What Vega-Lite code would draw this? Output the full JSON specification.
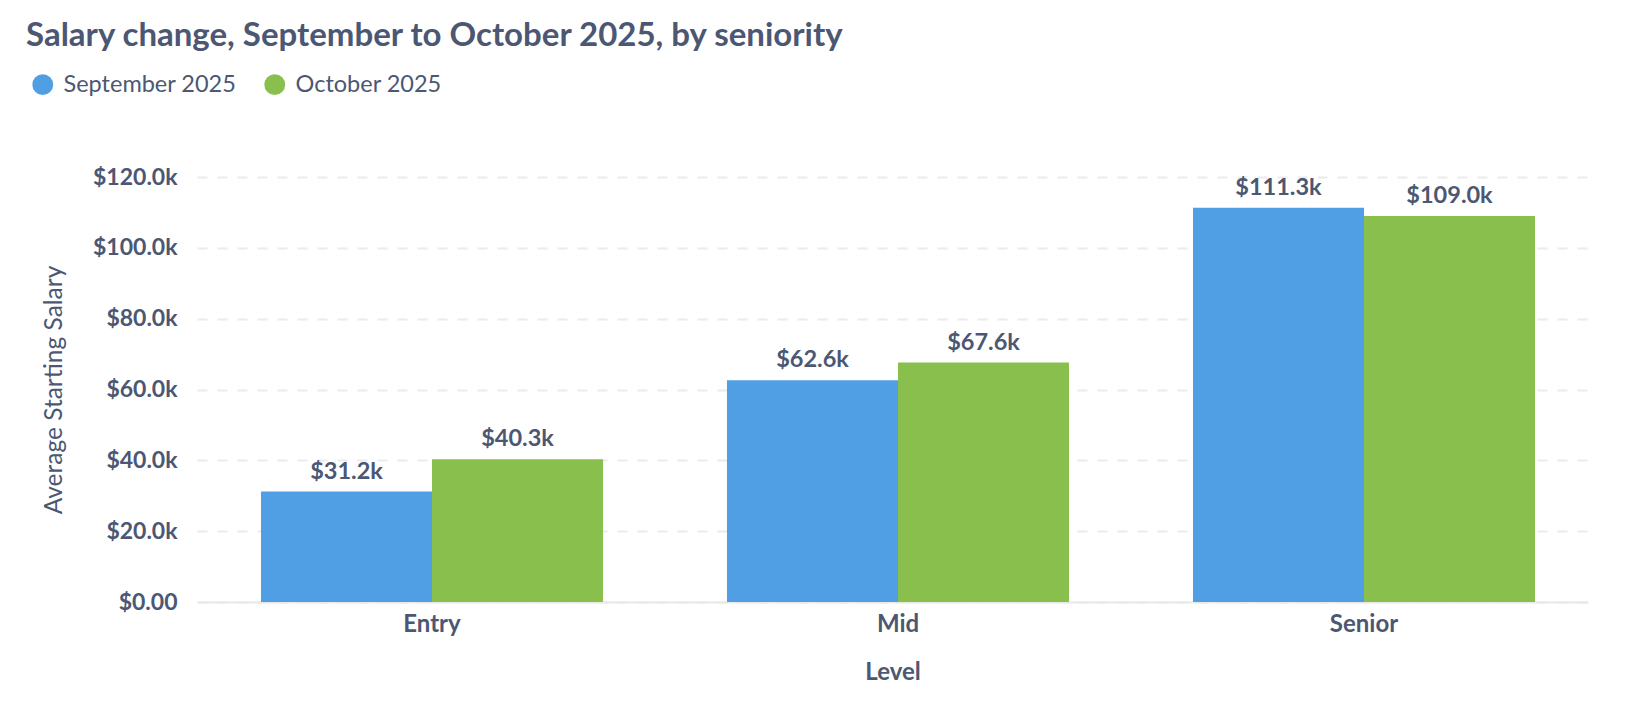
{
  "$schema": "https://vega.github.io/schema/vega-lite/v6.json",
  "width": 1391,
  "height": 425,
  "autosize": {"type": "none"},
  "padding": {"left": 197, "top": 177, "right": 54, "bottom": 110},
  "background": "white",
  "title": {
    "text": "Salary change, September to October 2025, by seniority",
    "anchor": "start",
    "frame": "group",
    "dx": -171,
    "dy": -16,
    "font": "Lato",
    "fontSize": 33,
    "fontWeight": "bold",
    "color": "#4C5773"
  },
  "data": {
    "values": [
      {"level": "Entry", "month": "September 2025", "salary": 31200},
      {"level": "Entry", "month": "October 2025", "salary": 40300},
      {"level": "Mid", "month": "September 2025", "salary": 62600},
      {"level": "Mid", "month": "October 2025", "salary": 67600},
      {"level": "Senior", "month": "September 2025", "salary": 111300},
      {"level": "Senior", "month": "October 2025", "salary": 109000}
    ]
  },
  "transform": [
    {"calculate": "'$' + format(datum.salary / 1000, '.1f') + 'k'", "as": "label"}
  ],
  "encoding": {
    "x": {
      "field": "level",
      "type": "nominal",
      "sort": ["Entry", "Mid", "Senior"],
      "title": "Level",
      "scale": {"paddingInner": 0.266, "paddingOuter": 0.1255, "align": 0.547},
      "axis": {
        "labelAngle": 0,
        "labelFont": "Lato",
        "labelFontSize": 24,
        "labelFontWeight": "bold",
        "labelColor": "#4C5773",
        "labelPadding": 10,
        "ticks": false,
        "domainColor": "#E8E8E8",
        "domainWidth": 2,
        "titleFont": "Lato",
        "titleFontSize": 24,
        "titleFontWeight": "bold",
        "titleColor": "#4C5773",
        "titlePadding": 24
      }
    },
    "xOffset": {"field": "month", "type": "nominal", "sort": ["September 2025", "October 2025"]},
    "y": {
      "field": "salary",
      "type": "quantitative",
      "title": "Average Starting Salary",
      "scale": {"domain": [0, 120000]},
      "axis": {
        "values": [0, 20000, 40000, 60000, 80000, 100000, 120000],
        "labelExpr": "datum.value == 0 ? '$0.00' : '$' + format(datum.value / 1000, '.1f') + 'k'",
        "labelFont": "Lato",
        "labelFontSize": 23,
        "labelFontWeight": "bold",
        "labelColor": "#4C5773",
        "labelPadding": 20,
        "ticks": false,
        "domain": false,
        "grid": true,
        "gridColor": "#EBEBEB",
        "gridDash": [10, 10],
        "gridWidth": 2,
        "titleFont": "Lato",
        "titleFontSize": 24.5,
        "titleFontWeight": "normal",
        "titleColor": "#4C5773",
        "titlePadding": 26
      }
    }
  },
  "layer": [
    {
      "mark": {"type": "bar"},
      "encoding": {
        "color": {
          "field": "month",
          "type": "nominal",
          "sort": ["September 2025", "October 2025"],
          "scale": {"domain": ["September 2025", "October 2025"], "range": ["#509EE3", "#88BF4D"]},
          "legend": {
            "title": null,
            "orient": "none",
            "direction": "horizontal",
            "legendX": -166,
            "legendY": -104.5,
            "symbolType": "circle",
            "symbolSize": 434,
            "symbolStrokeWidth": 0,
            "labelFont": "Lato",
            "labelFontSize": 23.5,
            "labelColor": "#4C5773",
            "labelOffset": 9,
            "labelLimit": 400,
            "columnPadding": 26,
            "padding": 0
          }
        }
      }
    },
    {
      "mark": {"type": "text", "baseline": "middle", "dy": -20, "font": "Lato", "fontSize": 23.5, "fontWeight": "bold", "color": "#4C5773"},
      "encoding": {
        "text": {"field": "label"}
      }
    }
  ],
  "config": {
    "view": {"stroke": null}
  }
}
